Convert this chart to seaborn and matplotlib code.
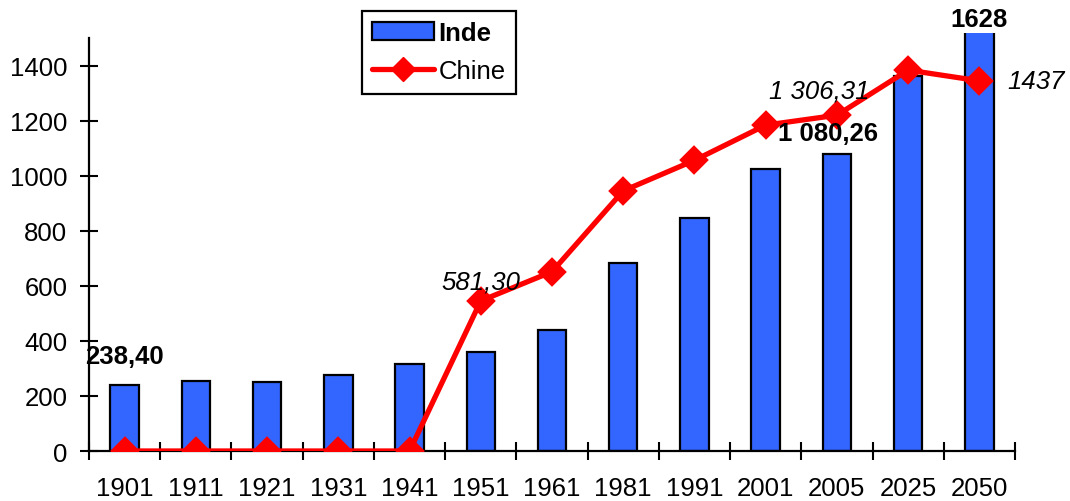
"""
Population Inde / Chine : barres + courbe
"""
import matplotlib
matplotlib.use('Agg')
import matplotlib.pyplot as plt
import seaborn as sns
import numpy as np
import pandas as pd
from matplotlib.patches import Patch
from matplotlib.lines import Line2D

# données
annees = ['1901', '1911', '1921', '1931', '1941', '1951', '1961',
          '1981', '1991', '2001', '2005', '2025', '2050']
inde = [238.4, 254, 252, 278, 318, 361, 441, 683, 846, 1027, 1080.26, 1364, 1628]
chine = [0, 0, 0, 0, 0, 546, 652, 946, 1057, 1185, 1221, 1385, 1346]

# étiquettes de valeurs
etiquettes = ['238,40', '581,30', '1 306,31', '1 080,26', '1628', '1437']

sns.set_style('white')
plt.rcParams['font.family'] = ['Liberation Sans', 'DejaVu Sans']
plt.rcParams['text.color'] = 'black'
plt.rcParams['xtick.color'] = 'black'
plt.rcParams['ytick.color'] = 'black'
plt.rcParams['axes.edgecolor'] = 'black'

FS = 18.5

df = pd.DataFrame({'annee': annees, 'Inde': inde, 'Chine': chine})

fig = plt.figure(figsize=(10.7, 5.02), dpi=100)
ax = fig.add_axes([0.0832, 0.0996, 0.9486 - 0.0832, 0.9323 - 0.0996])

bleu = '#3366FF'
rouge = '#FF0000'

sns.barplot(data=df, x='annee', y='Inde', color=bleu, saturation=1,
            width=0.4, edgecolor='black', linewidth=1.6, ax=ax, zorder=2)
sns.pointplot(data=df, x='annee', y='Chine', color=rouge, markers='D',
              linestyles='-', errorbar=None, ax=ax, zorder=3,
              linewidth=3.8, markersize=12)

ax.set_xlim(-0.5, len(annees) - 0.5)
ax.set_ylim(0, 1520)
ax.set_xlabel('')
ax.set_ylabel('')

# axes
for s in ['top', 'right']:
    ax.spines[s].set_visible(False)
ax.spines['left'].set_bounds(0, 1500)
ax.spines['left'].set_linewidth(1.6)
ax.spines['bottom'].set_linewidth(1.6)

ax.set_yticks(np.arange(0, 1401, 200))
ax.tick_params(axis='y', direction='inout', length=13, width=1.5,
               labelsize=FS, pad=9, left=True)
ax.tick_params(axis='x', which='major', length=0, labelsize=FS, pad=18)
ax.set_xticks(np.arange(-0.5, len(annees), 1), minor=True)
ax.tick_params(axis='x', which='minor', direction='inout', length=13,
               width=1.5, bottom=True)

# étiquettes
ax.text(0, 347, etiquettes[0], ha='center', va='center', fontsize=FS, fontweight='bold')
ax.text(5, 618, etiquettes[1], ha='center', va='center', fontsize=FS, fontstyle='italic')
ax.text(9.75, 1310, etiquettes[2], ha='center', va='center', fontsize=FS, fontstyle='italic')
ax.text(9.88, 1157, etiquettes[3], ha='center', va='center', fontsize=FS, fontweight='bold')
ax.text(12, 1570, etiquettes[4], ha='center', va='center', fontsize=FS,
        fontweight='bold', clip_on=False)
ax.text(12.8, 1346, etiquettes[5], ha='center', va='center', fontsize=FS,
        fontstyle='italic', clip_on=False)

# légende
handles = [Patch(facecolor=bleu, edgecolor='black', linewidth=1.6),
           Line2D([0], [0], color=rouge, linewidth=3.8, marker='D', markersize=12)]
leg = fig.legend(handles, ['Inde', 'Chine'], loc='upper left',
                 bbox_to_anchor=(0.338, 0.976), fontsize=FS, frameon=True,
                 fancybox=False, edgecolor='black', framealpha=1,
                 handlelength=2.4, handletextpad=0.2, borderpad=0.4,
                 labelspacing=0.55, borderaxespad=0)
leg.get_frame().set_linewidth(1.6)
leg.get_texts()[0].set_fontweight('bold')

plt.savefig('out.png', dpi=100)
plt.close()
